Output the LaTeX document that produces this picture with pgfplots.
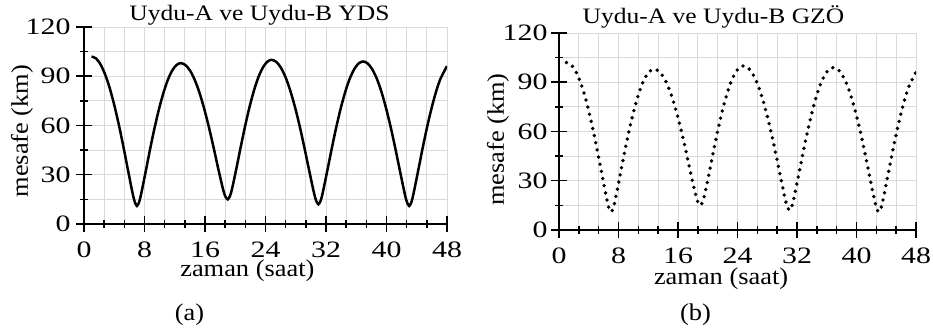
\documentclass[border=0pt]{standalone}
\usepackage{fontspec}
\setmainfont[FakeStretch=1.1]{Liberation Serif}
\newfontfamily\titlefont[FakeStretch=1.16]{Liberation Serif}
\newfontfamily\tickfont[FakeStretch=1.27]{Liberation Serif}
\usepackage{pgfplots}
\usepackage{pgfplotstable}
\pgfplotsset{compat=1.18}
\pgfplotstableread{
t d
1.0 102
1.6 100.8
2.2 97.1
2.8 91.0
3.4 82.8
4.0 72.5
4.6 60.6
5.2 47.3
5.8 33.2
6.4 19.3
6.7 13.6
7.0 11
7.29 13.4
7.58 18.8
8.16 32.0
8.74 45.6
9.32 58.3
9.9 69.7
10.48 79.5
11.06 87.5
11.64 93.3
12.22 96.8
12.8 98
13.42 96.8
14.04 93.3
14.66 87.6
15.28 79.8
15.9 70.1
16.52 58.9
17.14 46.5
17.76 33.5
18.38 21.3
18.69 16.8
19.0 15
19.29 16.9
19.58 21.5
20.16 34.0
20.74 47.3
21.32 60.0
21.9 71.5
22.48 81.4
23.06 89.4
23.64 95.2
24.22 98.8
24.8 100
25.42 98.8
26.04 95.2
26.66 89.3
27.28 81.2
27.9 71.2
28.52 59.6
29.14 46.6
29.76 32.9
30.38 19.6
30.69 14.3
31.0 12
31.3 14.3
31.59 19.5
32.18 32.7
32.77 46.2
33.36 59.0
33.95 70.5
34.54 80.4
35.13 88.4
35.72 94.2
36.31 97.8
36.9 99
37.51 97.8
38.12 94.2
38.73 88.4
39.34 80.4
39.95 70.4
40.56 58.9
41.17 46.0
41.78 32.3
42.39 18.9
42.7 13.4
43.0 11
43.3 13.4
43.59 18.9
44.18 32.3
44.77 46.0
45.36 58.9
45.95 70.4
46.54 80.4
47.13 88.4
48.0 96.2
}\dist
\pgfplotsset{sat/.style={
  scale only axis, height=197bp,
  xmin=0, xmax=48, ymin=0, ymax=120,
  xtick={0,8,...,48}, ytick={0,30,...,120},
  minor x tick num=2, minor y tick num=1,
  grid=both,
  major grid style={gray!30, line width=0.8bp},
  minor grid style={gray!30, line width=0.8bp},
  axis lines=left, axis line style={-, line width=1.6bp},
  tick align=center, major tick length=16bp, minor tick length=8bp,
  every tick/.style={black, line width=1.5bp},
  tick label style={font=\tickfont\fontsize{23.5bp}{28bp}\selectfont},
  xticklabel style={inner sep=0pt, yshift=-10bp},
  /pgf/number format/assume math mode=true,
  label style={font=\fontsize{24bp}{28bp}\selectfont},
}}
\begin{document}
\begin{tikzpicture}
\path[use as bounding box] (0,0) rectangle (933bp,336bp);
\begin{axis}[sat, width=363bp, at={(84bp,112bp)}, anchor=south west,
  yticklabel style={xshift=-2bp},
  xlabel={zaman (saat)}, ylabel={mesafe (km)},
  x label style={at={(axis description cs:0.45,-0.269)}, anchor=base, inner sep=0pt},
  y label style={at={(axis description cs:-0.171,0.472)}, anchor=center},
]
\addplot[black, line width=2.5bp, smooth] table {\dist};
\end{axis}
\begin{axis}[sat, width=357bp, at={(559bp,106bp)}, anchor=south west,
  xlabel={zaman (saat)}, ylabel={mesafe (km)},
  x label style={at={(axis description cs:0.454,-0.279)}, anchor=base, inner sep=0pt},
  y label style={at={(axis description cs:-0.171,0.459)}, anchor=center},
]
\addplot[black, line width=3.8bp, smooth, line cap=round, dash pattern=on 0pt off 7.3bp] table {\dist};
\end{axis}
\node[anchor=base, inner sep=0pt, font=\titlefont\fontsize{22bp}{27bp}\selectfont] at (259.5bp,315bp) {Uydu-A ve Uydu-B YDS};
\node[anchor=base, inner sep=0pt, font=\titlefont\fontsize{22bp}{27bp}\selectfont] at (713.5bp,312.7bp) {Uydu-A ve Uydu-B GZÖ};
\node[anchor=base, font=\fontsize{24bp}{28bp}\selectfont] at (189.5bp,16bp) {(a)};
\node[anchor=base, font=\fontsize{24bp}{28bp}\selectfont] at (695.5bp,16bp) {(b)};
\end{tikzpicture}
\end{document}
